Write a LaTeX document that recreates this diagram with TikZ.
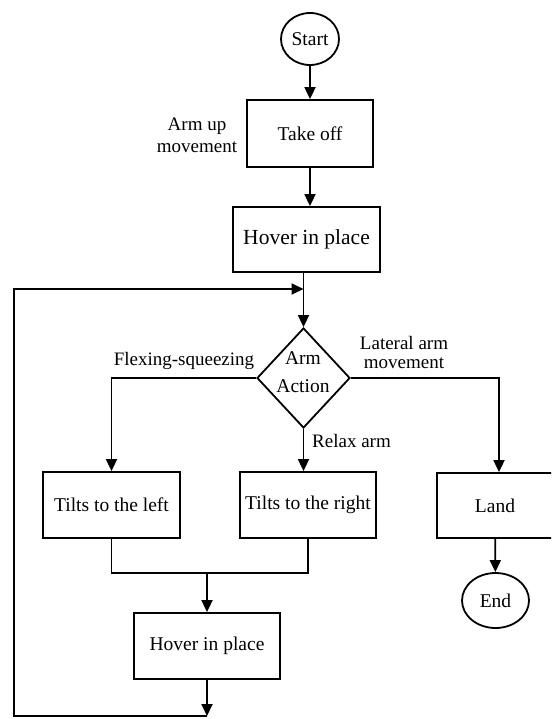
\documentclass[tikz,border=0pt]{standalone}
\usepackage{fontspec}
\setmainfont{Liberation Serif}
\usetikzlibrary{shapes.geometric,arrows.meta}

\begin{document}
\begin{tikzpicture}[x=1pt,y=-1pt, line width=1.8pt,
    box/.style={draw, rectangle, minimum height=66pt, inner sep=0pt,
      font=\fontsize{19.5}{23}\selectfont},
    term/.style={draw, ellipse, inner sep=0pt, font=\fontsize{19.5}{23}\selectfont},
    decision/.style={draw, diamond, minimum width=93pt, minimum height=100pt, inner sep=0pt},
    lbl/.style={inner sep=0pt, align=center, font=\fontsize{19}{22}\selectfont},
    arrow/.style={-{Triangle[length=12pt,width=11pt]}}]
  \useasboundingbox (0,0) rectangle (551,719);
  \clip (0,0) rectangle (551,719);

  % Main line: start, take off, hover
  \node[term, minimum width=58pt, minimum height=52pt] (start) at (310,39) {Start};
  \node[box, minimum width=126pt, minimum height=67pt] (takeoff) at (310,133.5) {Take off};
  \node[box, minimum width=147pt, minimum height=65pt,
    font=\fontsize{21.5}{25}\selectfont] (hoverA) at (306.5,239.5) {Hover in place};
  \node[decision] (action) at (303.5,378) {};
  \node[lbl, font=\fontsize{19.5}{28}\selectfont] (actiontxt) at (303,372) {Arm\\Action};

  % Branches
  \node[box, minimum width=137pt] (tiltL) at (111.5,505) {Tilts to the left};
  \node[box, minimum width=136pt] (tiltR) at (308,505) {Tilts to the right};
  \node[box, minimum width=116pt, minimum height=65pt] (land) at (495,505.5) {Land};
  \node[term, minimum width=67pt, minimum height=55pt] (endnode) at (495.5,600.5) {End};
  \node[box, minimum width=146pt] (hoverB) at (207,646) {Hover in place};

  % Labels
  \node[lbl] (armup) at (197,135.5) {Arm up\\movement};
  \node[lbl] (flex) at (184,360.5) {Flexing-squeezing};
  \node[lbl, font=\fontsize{19}{19}\selectfont] (lateral) at (404,352.5) {Lateral arm\\movement};
  \node[lbl] (relax) at (351.5,440.5) {Relax arm};

  % Loop corners
  \coordinate (loopT) at (14,289);
  \coordinate (loopB) at (14,716);
  \coordinate (merge) at (207,573);

  \draw[arrow] (start) -- (takeoff);
  \draw[arrow] (takeoff.south) -- (takeoff.south |- hoverA.north);
  \draw[arrow] (hoverA.south -| action.north) -- (action.north);
  \draw[arrow] (action.west) -| (tiltL.north);
  \draw[arrow] (action.south) -- (action.south |- tiltR.north);
  \draw[arrow] (action.east) -| ([xshift=4pt]land.north);
  \draw[arrow] (land) -- (endnode);
  \draw (tiltL.south) |- (merge) -| (tiltR.south);
  \draw[arrow] (merge) -- (hoverB.north);
  \draw[arrow] (hoverB.south) -- (hoverB.south |- loopB);
  \draw[arrow] (hoverB.south |- loopB) -- (loopB) -- (loopT) -- (action.north |- loopT);
\end{tikzpicture}
\end{document}
